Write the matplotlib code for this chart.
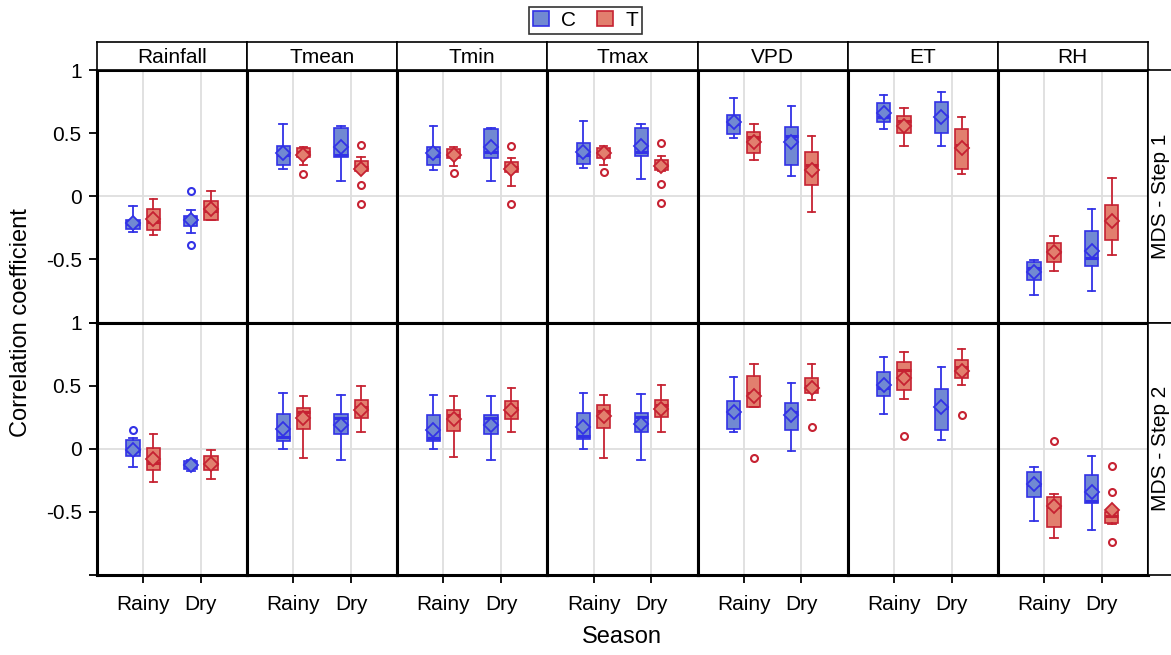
import matplotlib.pyplot as plt
from matplotlib.patches import Patch

plt.rcParams['font.family'] = ['Liberation Sans', 'DejaVu Sans']

variables = ['Rainfall', 'Tmean', 'Tmin', 'Tmax', 'VPD', 'ET', 'RH']
seasons = ['Rainy', 'Dry']
groups = ['C', 'T']
steps = ['MDS - Step 1', 'MDS - Step 2']

# every row holds [C-Rainy, T-Rainy, C-Dry, T-Dry] for one variable
step1_whislo = [[-0.28, -0.31, -0.29, -0.19], [0.215, 0.245, 0.125, 0.20],
                [0.21, 0.24, 0.12, 0.085], [0.225, 0.245, 0.14, 0.20],
                [0.465, 0.29, 0.16, -0.125], [0.53, 0.40, 0.40, 0.175],
                [-0.785, -0.595, -0.75, -0.465]]
step1_q1 = [[-0.26, -0.27, -0.235, -0.19], [0.25, 0.31, 0.31, 0.20],
            [0.25, 0.305, 0.305, 0.19], [0.26, 0.30, 0.32, 0.205],
            [0.49, 0.345, 0.25, 0.09], [0.59, 0.50, 0.50, 0.215],
            [-0.665, -0.52, -0.555, -0.345]]
step1_med = [[-0.22, -0.20, -0.18, -0.12], [0.33, 0.35, 0.33, 0.23],
             [0.32, 0.335, 0.35, 0.23], [0.33, 0.35, 0.35, 0.25],
             [0.57, 0.47, 0.48, 0.25], [0.63, 0.60, 0.64, 0.41],
             [-0.57, -0.44, -0.49, -0.195]]
step1_q3 = [[-0.19, -0.10, -0.155, -0.035], [0.40, 0.38, 0.54, 0.28],
            [0.39, 0.375, 0.53, 0.27], [0.42, 0.38, 0.545, 0.29],
            [0.645, 0.51, 0.55, 0.35], [0.74, 0.64, 0.75, 0.535],
            [-0.52, -0.37, -0.275, -0.07]]
step1_whishi = [[-0.08, -0.02, -0.11, 0.045], [0.575, 0.39, 0.555, 0.31],
                [0.56, 0.39, 0.54, 0.30], [0.595, 0.40, 0.57, 0.32],
                [0.78, 0.57, 0.715, 0.475], [0.805, 0.70, 0.83, 0.63],
                [-0.505, -0.315, -0.10, 0.145]]
step1_mean = [[-0.21, -0.18, -0.19, -0.10], [0.34, 0.33, 0.39, 0.22],
              [0.34, 0.33, 0.39, 0.22], [0.35, 0.34, 0.395, 0.24],
              [0.59, 0.43, 0.43, 0.21], [0.66, 0.56, 0.63, 0.38],
              [-0.60, -0.44, -0.435, -0.195]]
step1_fliers = [[[], [], [0.04, -0.385], []],
                [[], [0.18], [], [0.41, 0.09, -0.06]],
                [[], [0.185], [], [0.40, -0.06]],
                [[], [0.19], [], [0.425, 0.10, -0.055]],
                [[], [], [], []],
                [[], [], [], []],
                [[], [], [], []]]

step2_whislo = [[-0.145, -0.26, -0.175, -0.235], [0.0, -0.07, -0.085, 0.13],
                [0.0, -0.065, -0.09, 0.13], [0.0, -0.07, -0.085, 0.135],
                [0.13, 0.33, -0.02, 0.385], [0.275, 0.395, 0.07, 0.505],
                [-0.57, -0.705, -0.64, -0.595]]
step2_q1 = [[-0.057, -0.165, -0.16, -0.17], [0.065, 0.16, 0.12, 0.245],
            [0.065, 0.14, 0.12, 0.235], [0.075, 0.165, 0.13, 0.255],
            [0.16, 0.33, 0.15, 0.445], [0.42, 0.47, 0.15, 0.565],
            [-0.38, -0.62, -0.43, -0.585]]
step2_med = [[-0.02, -0.115, -0.13, -0.12], [0.09, 0.29, 0.245, 0.33],
             [0.085, 0.27, 0.245, 0.325], [0.105, 0.30, 0.255, 0.345],
             [0.285, 0.445, 0.29, 0.50], [0.485, 0.625, 0.32, 0.645],
             [-0.29, -0.46, -0.41, -0.53]]
step2_q3 = [[0.07, 0.005, -0.10, -0.057], [0.275, 0.325, 0.275, 0.385],
            [0.27, 0.305, 0.27, 0.375], [0.285, 0.35, 0.28, 0.385],
            [0.375, 0.575, 0.365, 0.565], [0.605, 0.685, 0.475, 0.705],
            [-0.18, -0.385, -0.21, -0.50]]
step2_whishi = [[0.085, 0.12, -0.09, -0.01], [0.44, 0.42, 0.43, 0.50],
                [0.425, 0.415, 0.42, 0.48], [0.445, 0.43, 0.435, 0.505],
                [0.57, 0.67, 0.525, 0.67], [0.725, 0.765, 0.65, 0.79],
                [-0.14, -0.36, -0.06, -0.49]]
step2_mean = [[-0.01, -0.08, -0.13, -0.12], [0.155, 0.245, 0.19, 0.31],
              [0.15, 0.235, 0.19, 0.31], [0.175, 0.26, 0.20, 0.315],
              [0.29, 0.42, 0.27, 0.48], [0.505, 0.565, 0.33, 0.62],
              [-0.28, -0.45, -0.345, -0.485]]
step2_fliers = [[[0.15], [], [], []],
                [[], [], [], []],
                [[], [], [], []],
                [[], [], [], []],
                [[], [-0.07], [], [0.175]],
                [[], [0.105], [], [0.265]],
                [[], [0.065], [], [-0.137, -0.345, -0.735]]]

step_data = [
    (step1_whislo, step1_q1, step1_med, step1_q3, step1_whishi, step1_mean, step1_fliers),
    (step2_whislo, step2_q1, step2_med, step2_q3, step2_whishi, step2_mean, step2_fliers),
]

edge_colors = {'C': '#3232e6', 'T': '#c62232'}
fill_colors = {'C': '#7189d2', 'T': '#e27f6e'}
offsets = {'C': -0.175, 'T': 0.175}
box_w = 0.23

fig, axes = plt.subplots(2, 7, figsize=(11.71, 6.55), dpi=100, sharey=True)
fig.subplots_adjust(left=0.0828, right=0.9803, top=0.893, bottom=0.122,
                    wspace=0, hspace=0)

for r, (wlo, q1, med, q3, whi, mean, fl) in enumerate(step_data):
    for c, var in enumerate(variables):
        ax = axes[r, c]
        ax.axhline(0, color='#dedede', lw=1.3, zorder=0)
        for x in (1, 2):
            ax.axvline(x, color='#dedede', lw=1.3, zorder=0)
        k = 0
        for si in range(len(seasons)):
            for g in groups:
                stats = [dict(whislo=wlo[c][k], q1=q1[c][k], med=med[c][k],
                              q3=q3[c][k], whishi=whi[c][k], mean=mean[c][k],
                              fliers=fl[c][k])]
                ec, fc = edge_colors[g], fill_colors[g]
                ax.bxp(stats, positions=[si + 1 + offsets[g]], widths=box_w,
                       capwidths=0.13, showmeans=True, patch_artist=True,
                       boxprops=dict(facecolor=fc, edgecolor=ec, lw=1.2),
                       medianprops=dict(color=ec, lw=2.2),
                       whiskerprops=dict(color=ec, lw=1.3),
                       capprops=dict(color=ec, lw=1.3),
                       flierprops=dict(marker='o', mfc='none', mec=ec,
                                       mew=1.5, markersize=5),
                       meanprops=dict(marker='D', mfc=fc, mec=ec, mew=1.3,
                                      markersize=7))
                k += 1

        ax.set_xlim(0.2, 2.8)
        ax.set_ylim(-1, 1)
        ax.set_xticks([1, 2])
        ax.set_xticklabels(seasons)
        ax.set_yticks([-1, -0.5, 0, 0.5, 1])
        ax.set_yticklabels(['', '-0.5', '0', '0.5', '1'])
        ax.tick_params(direction='out', length=6, width=1.3, labelsize=15,
                       color='black')
        ax.tick_params(axis='x', pad=8)
        ax.tick_params(axis='y', pad=5)
        for sp in ax.spines.values():
            sp.set_linewidth(2.2)
        if c > 0:
            ax.tick_params(left=False, labelleft=False)
        if r == 0:
            ax.tick_params(bottom=False, labelbottom=False)

        # facet strips
        pos = ax.get_position()
        if r == 0:
            sax = fig.add_axes([pos.x0, pos.y1, pos.width, 28 / 655])
            sax.set_xticks([])
            sax.set_yticks([])
            for sp in sax.spines.values():
                sp.set_linewidth(1.2)
            sax.text(0.5, 0.45, var, ha='center', va='center', fontsize=15)
        if c == len(variables) - 1:
            rax = fig.add_axes([pos.x1, pos.y0, 28 / 1171, pos.height])
            rax.set_xticks([])
            rax.set_yticks([])
            for sp in rax.spines.values():
                sp.set_linewidth(1.2)
            rax.text(0.45, 0.5, steps[r], ha='center', va='center',
                     rotation=90, fontsize=15)

fig.text(0.018, 0.508, 'Correlation coefficient', rotation=90,
         ha='center', va='center', fontsize=17)
fig.text(0.531, 0.027, 'Season', ha='center', va='center', fontsize=17)

handles = [Patch(facecolor=fill_colors[g], edgecolor=edge_colors[g], lw=1.2)
           for g in groups]
leg = fig.legend(handles, groups, loc='upper center', bbox_to_anchor=(0.5, 0.99),
                 ncol=2, fontsize=15, frameon=True, fancybox=False,
                 handlelength=0.75, handleheight=0.75, handletextpad=0.6,
                 columnspacing=1.0, borderpad=0.2, borderaxespad=0)
leg.get_frame().set_edgecolor('black')
leg.get_frame().set_linewidth(1.2)

fig.savefig('out.png', dpi=100)
